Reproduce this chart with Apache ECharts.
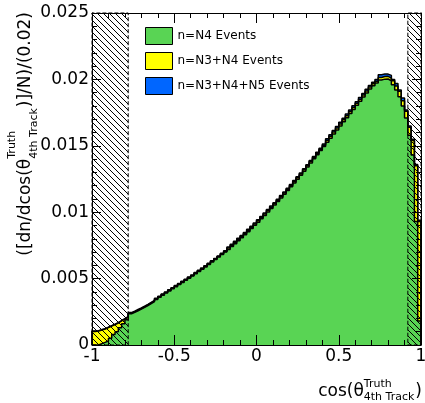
<!DOCTYPE html>
<html>
<head>
<meta charset="utf-8">
<script src="https://cdn.jsdelivr.net/npm/echarts@6/dist/echarts.min.js"></script>
<style>
  html, body { margin: 0; padding: 0; background: #fff; }
  #chart { width: 425px; height: 403px; }
</style>
</head>
<body>
<div id="chart"></div>
<script>
// Histogram binning: 100 bins of width 0.02 over cos(theta) in [-1, 1]
const binLow = -1;
const binWidth = 0.02;

const seriesNames = ['n=N4 Events', 'n=N3+N4 Events', 'n=N3+N4+N5 Events'];

// Normalised bin contents, (dn/dcos)/N per 0.02
const valuesN4 = [
  0.00000, 0.00000, 0.00010, 0.00020, 0.00030, 0.00050, 0.00080, 0.00100, 0.00130, 0.00160,
  0.00190, 0.00235, 0.00246, 0.00258, 0.00270, 0.00283, 0.00297, 0.00312, 0.00327, 0.00343,
  0.00359, 0.00375, 0.00391, 0.00407, 0.00423, 0.00439, 0.00455, 0.00471, 0.00487, 0.00503,
  0.00519, 0.00536, 0.00553, 0.00570, 0.00588, 0.00606, 0.00625, 0.00643, 0.00662, 0.00681,
  0.00700, 0.00720, 0.00741, 0.00763, 0.00785, 0.00807, 0.00830, 0.00853, 0.00877, 0.00901,
  0.00925, 0.00950, 0.00976, 0.01002, 0.01028, 0.01054, 0.01080, 0.01107, 0.01135, 0.01163,
  0.01191, 0.01220, 0.01249, 0.01278, 0.01309, 0.01340, 0.01371, 0.01402, 0.01433, 0.01464,
  0.01495, 0.01526, 0.01557, 0.01588, 0.01619, 0.01650, 0.01681, 0.01712, 0.01743, 0.01774,
  0.01805, 0.01836, 0.01867, 0.01898, 0.01928, 0.01952, 0.01972, 0.01995, 0.02002, 0.02003,
  0.01990, 0.01960, 0.01920, 0.01870, 0.01800, 0.01710, 0.01580, 0.01430, 0.00930, 0.00180
];
const valuesN3N4 = [
  0.00102, 0.00105, 0.00113, 0.00120, 0.00132, 0.00143, 0.00154, 0.00166, 0.00181, 0.00196,
  0.00211, 0.00240, 0.00251, 0.00263, 0.00275, 0.00288, 0.00302, 0.00317, 0.00332, 0.00348,
  0.00364, 0.00380, 0.00396, 0.00412, 0.00428, 0.00444, 0.00460, 0.00476, 0.00492, 0.00508,
  0.00524, 0.00541, 0.00558, 0.00575, 0.00593, 0.00611, 0.00630, 0.00648, 0.00667, 0.00686,
  0.00705, 0.00730, 0.00751, 0.00773, 0.00795, 0.00817, 0.00840, 0.00863, 0.00887, 0.00911,
  0.00935, 0.00960, 0.00986, 0.01012, 0.01038, 0.01064, 0.01090, 0.01117, 0.01145, 0.01173,
  0.01201, 0.01230, 0.01259, 0.01288, 0.01319, 0.01350, 0.01381, 0.01412, 0.01443, 0.01474,
  0.01505, 0.01541, 0.01572, 0.01603, 0.01634, 0.01665, 0.01696, 0.01727, 0.01758, 0.01789,
  0.01820, 0.01851, 0.01882, 0.01913, 0.01943, 0.01967, 0.01987, 0.02015, 0.02022, 0.02023,
  0.02010, 0.01990, 0.01950, 0.01910, 0.01840, 0.01760, 0.01640, 0.01540, 0.01350, 0.00930
];
const valuesN3N4N5 = [
  0.00105, 0.00108, 0.00116, 0.00123, 0.00135, 0.00146, 0.00157, 0.00169, 0.00184, 0.00199,
  0.00214, 0.00244, 0.00255, 0.00267, 0.00279, 0.00292, 0.00306, 0.00321, 0.00336, 0.00352,
  0.00368, 0.00384, 0.00400, 0.00416, 0.00432, 0.00448, 0.00464, 0.00480, 0.00496, 0.00512,
  0.00528, 0.00545, 0.00562, 0.00579, 0.00597, 0.00615, 0.00634, 0.00652, 0.00671, 0.00690,
  0.00709, 0.00738, 0.00759, 0.00781, 0.00803, 0.00825, 0.00848, 0.00871, 0.00895, 0.00919,
  0.00943, 0.00968, 0.00994, 0.01020, 0.01046, 0.01072, 0.01098, 0.01125, 0.01153, 0.01181,
  0.01209, 0.01238, 0.01267, 0.01296, 0.01327, 0.01358, 0.01389, 0.01420, 0.01451, 0.01482,
  0.01513, 0.01553, 0.01584, 0.01615, 0.01646, 0.01677, 0.01708, 0.01739, 0.01770, 0.01801,
  0.01832, 0.01863, 0.01894, 0.01925, 0.01955, 0.01979, 0.01999, 0.02035, 0.02040, 0.02040,
  0.02030, 0.02000, 0.01970, 0.01920, 0.01860, 0.01770, 0.01650, 0.01550, 0.01360, 0.00940
];

// Excluded (hatched) acceptance regions in cos(theta)
const vetoRanges = [[-1, -0.78], [0.92, 1]];

const xTickLabels = ['-1', '-0.5', '0', '0.5', '1'];
const yTickLabels = ['0', '0.005', '0.01', '0.015', '0.02', '0.025'];

const FONT = '"DejaVu Sans", "Liberation Sans", Arial, sans-serif';
const fillN4 = '#59d454';
const fillN3N4 = '#ffff00';
const fillN3N4N5 = '#0066ff';

// Step outline of a histogram: starts and ends on the baseline
function stepPoints(values) {
  const pts = [[binLow, 0]];
  values.forEach((v, i) => pts.push([binLow + i * binWidth, v]));
  const hi = binLow + values.length * binWidth;
  pts.push([hi, values[values.length - 1]]);
  pts.push([hi, 0]);
  return pts;
}

function histSeries(name, values, fill) {
  return {
    name: name,
    type: 'line',
    step: 'end',
    symbol: 'none',
    animation: false,
    silent: true,
    data: stepPoints(values),
    itemStyle: { color: fill },
    lineStyle: { color: '#000', width: 1.5 },
    areaStyle: { color: fill, opacity: 1 },
    z: 2
  };
}

// Diagonal hatch tile for the excluded regions
function hatchTile() {
  const c = document.createElement('canvas');
  c.width = 6; c.height = 6;
  const g = c.getContext('2d');
  g.strokeStyle = '#000';
  g.lineWidth = 1;
  g.beginPath();
  g.moveTo(0, 0); g.lineTo(6, 6);
  g.moveTo(-1, 5); g.lineTo(1, 7);
  g.moveTo(5, -1); g.lineTo(7, 1);
  g.stroke();
  return c;
}

const measureCtx = document.createElement('canvas').getContext('2d');
function textWidth(str, size) {
  measureCtx.font = size + 'px ' + FONT;
  return measureCtx.measureText(str).width;
}

// Text element placed by its alphabetic baseline
function txt(str, size, x, baseline) {
  return {
    type: 'text',
    x: x,
    y: baseline - 0.3 * size,
    silent: true,
    style: { text: str, fontSize: size, fontFamily: FONT, fill: '#000', align: 'left', verticalAlign: 'middle' }
  };
}

// Axis title with stacked super/subscript: main1 ^{sup}_{sub} main2
function latexTitle(main1, sup, sub, main2, bigSize, smallSize, supShift, subShift) {
  const w1 = textWidth(main1, bigSize);
  const wSup = textWidth(sup, smallSize);
  const wSub = textWidth(sub, smallSize);
  const wScript = Math.max(wSup, wSub) + 1;
  const w2 = textWidth(main2, bigSize);
  return {
    length: w1 + wScript + w2,
    children: [
      txt(main1, bigSize, 0, 0),
      txt(sup, smallSize, w1, -supShift),
      txt(sub, smallSize, w1, subShift),
      txt(main2, bigSize, w1 + wScript, 0)
    ]
  };
}

const xTitle = latexTitle('cos(\u03b8', 'Truth', '4th Track', ')', 17, 11, 10, 3);
const yTitle = latexTitle('([dn/dcos(\u03b8', 'Truth', '4th Track', ')]/N)/(0.02)', 17, 11, 16, 6);

const axisCommon = {
  type: 'value',
  z: 20,
  axisLine: { show: true, onZero: false, lineStyle: { color: '#000', width: 1 } },
  axisTick: { show: true, inside: true, length: 10, lineStyle: { color: '#000', width: 1 } },
  minorTick: { show: true, splitNumber: 5, length: 5, lineStyle: { color: '#000', width: 1 } },
  splitLine: { show: false },
  minorSplitLine: { show: false }
};

const option = {
  animation: false,
  backgroundColor: '#fff',
  grid: { left: 92, right: 4, top: 13, bottom: 58, containLabel: false, outerBoundsMode: 'none' },
  legend: {
    left: 145, top: 27,
    padding: 0,
    orient: 'vertical',
    icon: 'rect',
    itemWidth: 27, itemHeight: 17, itemGap: 7,
    selectedMode: false,
    data: seriesNames,
    itemStyle: { borderColor: '#000', borderWidth: 1 },
    textStyle: { fontFamily: FONT, fontSize: 12, color: '#000' }
  },
  xAxis: [
    Object.assign({}, axisCommon, {
      position: 'bottom', min: -1, max: 1, interval: 0.5,
      axisLabel: {
        show: true, margin: 3, color: '#000', fontFamily: FONT, fontSize: 17,
        showMinLabel: true, showMaxLabel: true,
        formatter: (v, i) => xTickLabels[i]
      }
    }),
    Object.assign({}, axisCommon, {
      position: 'top', min: -1, max: 1, interval: 0.5,
      axisLabel: { show: false }
    })
  ],
  yAxis: [
    Object.assign({}, axisCommon, {
      position: 'left', min: 0, max: 0.025, interval: 0.005,
      axisTick: Object.assign({}, axisCommon.axisTick, { length: 9 }),
      axisLabel: {
        show: true, margin: 3, color: '#000', fontFamily: FONT, fontSize: 17,
        showMinLabel: true, showMaxLabel: true,
        formatter: (v, i) => yTickLabels[i]
      }
    }),
    Object.assign({}, axisCommon, {
      position: 'right', min: 0, max: 0.025, interval: 0.005,
      axisTick: Object.assign({}, axisCommon.axisTick, { length: 9 }),
      axisLabel: { show: false }
    })
  ],
  series: [
    histSeries(seriesNames[2], valuesN3N4N5, fillN3N4N5),
    histSeries(seriesNames[1], valuesN3N4, fillN3N4),
    Object.assign(histSeries(seriesNames[0], valuesN4, fillN4), {
      markArea: {
        silent: true,
        z: 5,
        itemStyle: {
          color: { image: hatchTile(), repeat: 'repeat' },
          borderColor: '#000', borderWidth: 1, borderType: 'dashed'
        },
        data: vetoRanges.map(r => [{ xAxis: r[0] }, { xAxis: r[1] }])
      }
    })
  ],
  graphic: [
    {
      type: 'group',
      x: 422 - xTitle.length,
      y: 397,
      silent: true,
      children: xTitle.children
    },
    {
      type: 'group',
      x: 31,
      y: 12 + yTitle.length,
      rotation: Math.PI / 2,
      silent: true,
      children: yTitle.children
    }
  ]
};

const chart = echarts.init(document.getElementById('chart'), null, { renderer: 'canvas' });
chart.setOption(option);
</script>
</body>
</html>
